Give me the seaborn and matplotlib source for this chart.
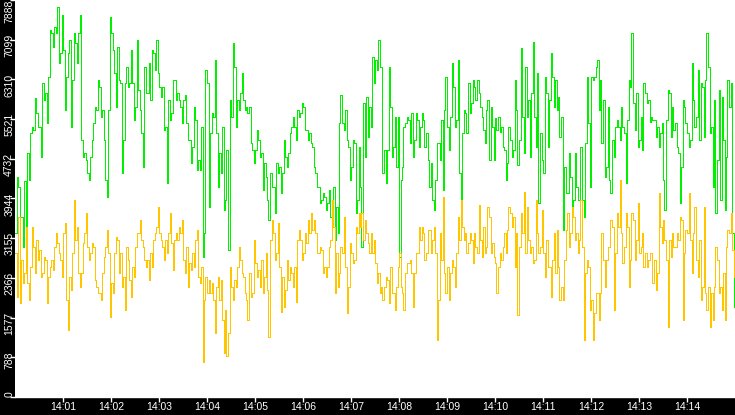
import pandas as pd
import numpy as np
import matplotlib
matplotlib.use('Agg')
import matplotlib.pyplot as plt
import matplotlib.dates as mdates
from matplotlib.transforms import ScaledTranslation
import seaborn as sns

# per 3.75 s slot a main level and the spike drawn inside the slot
green_main = [
    3254, 4181, 3585, 4300, 4843, 5240, 5306, 5637, 5373, 6233,
    6034, 6365, 7226, 7358, 7756, 6829, 6895, 6365, 7094, 6299,
    7027, 7226, 5108, 4843, 4446, 4777, 5439, 5704, 6167, 5704,
    4313, 5704, 7226, 6432, 6961, 6233, 5108, 6564, 6233, 6233,
    5770, 6101, 5240, 6564, 6034, 5902, 6829, 7094, 6167, 6167,
    5373, 5902, 5637, 6299, 6034, 5770, 5902, 5439, 5108, 4975,
    5505, 4711, 5373, 3254, 6233, 5240, 5571, 5240, 4843, 5373,
    3916, 2923, 5571, 6564, 5902, 6034, 5902, 5770, 5770, 4909,
    4909, 5108, 4843, 4644, 3916, 4446, 4181, 4644, 4578, 4446,
    4777, 4843, 5373, 5373, 5704, 5637, 5770, 5306, 5240, 4975,
    4446, 4181, 3916, 3982, 3850, 3585, 4181, 3784, 5439, 5439,
    5704, 4975, 4578, 5041, 3916, 4181, 5836, 5968, 5770, 6763,
    6696, 7100, 6564, 4909, 4909, 5770, 4975, 4578, 2791, 4578,
    5439, 5505, 5637, 5108, 5505, 5373, 5505, 5240, 4181, 3916,
    4313, 5041, 5505, 5704, 5373, 5571, 6167, 5505, 4446, 5240,
    5637, 6233, 5836, 6167, 6299, 5770, 5306, 5704, 4711, 5373,
    5538, 5571, 5373, 4909, 4644, 5108, 4909, 5704, 5108, 5571,
    6564, 5902, 6034, 5571, 6432, 5240, 4446, 6034, 5902, 6365,
    6299, 5968, 5571, 4578, 4048, 4380, 3916, 4181, 3916, 3916,
    5041, 5439, 6365, 6365, 6696, 6299, 5902, 4578, 4313, 5108,
    5373, 5373, 5770, 5240, 5505, 6167, 5836, 6034, 5108, 4909,
    6034, 5902, 5571, 5505, 5373, 5240, 4313, 5505, 6034, 5770,
    5439, 4843, 4578, 5770, 5240, 5108, 5902, 5571, 5108, 6167,
    6299, 6564, 5373, 5902, 4711, 3916, 5108, 4777, 5770, 3254,
]
green_spike = [
    4379, 3585, 2989, 2989, 4313, 5372, 5935, 5372, 4777, 5902,
    5439, 7292, 6961, 7226, 6630, 7590, 5703, 6829, 5372, 7226,
    6630, 7590, 4777, 4710, 4313, 5108, 5770, 6299, 5571, 5108,
    3982, 7557, 6895, 5770, 6299, 4446, 6233, 6167, 6895, 5505,
    7094, 5703, 4578, 6034, 6630, 6895, 6498, 6432, 5968, 5306,
    4247, 5505, 6299, 5902, 5902, 5439, 6001, 5108, 4644, 5770,
    4512, 4512, 2791, 6498, 3784, 5637, 6696, 4181, 4446, 3717,
    4909, 5902, 7027, 5372, 5703, 6432, 5703, 5637, 5041, 4644,
    5306, 4777, 4115, 4379, 3519, 4181, 3651, 4446, 4048, 5108,
    4578, 5240, 5571, 5108, 5571, 5836, 5306, 5108, 5041, 4578,
    4181, 3850, 4048, 3717, 4115, 3916, 3122, 3254, 6001, 5306,
    5108, 4313, 5108, 3651, 4975, 2989, 4777, 5174, 5372, 6233,
    6498, 6564, 4446, 4247, 6564, 4777, 5571, 5571, 4313, 5372,
    5571, 5041, 4777, 5637, 4975, 5637, 4975, 4710, 4644, 3717,
    5041, 4710, 4115, 6365, 4909, 6630, 5372, 6696, 3916, 5703,
    5240, 5637, 6299, 5902, 6034, 5571, 5041, 5902, 5770, 4710,
    5306, 5273, 4975, 4313, 5372, 4777, 6299, 4611, 6928, 4843,
    5571, 4777, 7060, 4975, 3850, 4710, 6365, 4975, 6829, 5770,
    5703, 5174, 3320, 4048, 4843, 3717, 4843, 3916, 4975, 3585,
    6365, 4181, 6299, 6564, 5703, 5041, 4379, 5770, 4048, 4777,
    5505, 5108, 5372, 4247, 6299, 7226, 5306, 4975, 5571, 6233,
    5836, 5472, 5505, 5174, 4975, 5439, 3717, 6101, 5174, 5306,
    4975, 3850, 5902, 5439, 4975, 6630, 5372, 6498, 6233, 5174,
    7226, 5240, 4181, 3651, 6101, 5968, 3717, 6299, 6233, 1798,
]
green_last = 1800

yellow_main = [
    2857, 3585, 2724, 2460, 2261, 2592, 2989, 3121, 2923, 2460,
    2724, 2393, 2724, 2989, 3055, 2724, 3254, 1930, 2393, 2857,
    3121, 2460, 2460, 3254, 2989, 2857, 2989, 2195, 2062, 2460,
    2989, 2857, 2261, 2857, 3121, 2857, 2393, 2989, 2327, 2592,
    2989, 3254, 3121, 2724, 2724, 2857, 3121, 3386, 3254, 2989,
    3121, 3254, 3055, 3121, 3121, 3254, 2724, 2989, 2658, 2857,
    3121, 2393, 2592, 1930, 2062, 2062, 1930, 2195, 1930, 1533,
    1732, 1268, 2195, 2327, 2592, 2724, 2393, 1930, 2460, 2062,
    2658, 2526, 2724, 2393, 2129, 3121, 3254, 2857, 2592, 2393,
    2129, 2327, 2460, 2592, 3121, 3121, 2857, 3055, 3254, 3320,
    3254, 2857, 2923, 2592, 2592, 3121, 3386, 2857, 2460, 2857,
    2592, 2195, 2857, 2724, 3254, 3386, 3121, 3254, 2857, 2857,
    2658, 2460, 2195, 2195, 2327, 2592, 2062, 2195, 2857, 2062,
    2460, 2658, 2460, 2460, 2857, 3121, 3254, 2857, 3320, 3121,
    2857, 1930, 2724, 2460, 2592, 2460, 2592, 2857, 3121, 3386,
    3254, 3055, 3121, 3254, 2857, 3121, 3386, 2989, 3585, 3055,
    2658, 2592, 2724, 3254, 3320, 3651, 3585, 3254, 2989, 3254,
    2857, 3121, 2989, 2724, 3254, 2989, 2857, 3121, 2592, 2724,
    2460, 2592, 2195, 2724, 3651, 3254, 3585, 3254, 3121, 2989,
    2460, 2592, 1930, 1665, 2062, 2062, 2724, 2724, 2989, 3386,
    2857, 3386, 3254, 2989, 3386, 2724, 3518, 3121, 2857, 3254,
    2857, 2724, 2857, 2724, 2460, 3386, 3518, 2724, 3121, 3254,
    2989, 3121, 3518, 2857, 3254, 3121, 3254, 2724, 3121, 2195,
    2062, 2195, 2062, 2195, 2724, 2195, 2460, 2989, 3254, 2923,
]
yellow_spike = [
    1996, 1864, 2261, 3386, 1930, 3386, 2460, 2724, 2393, 2791,
    1864, 2592, 2526, 3254, 2857, 2393, 3453, 1334, 2129, 3916,
    3386, 2195, 3055, 3651, 2724, 3055, 2327, 2062, 1930, 2791,
    3320, 1599, 2062, 3188, 2460, 2195, 1731, 2724, 1996, 2393,
    3254, 3519, 2989, 2592, 2327, 2592, 3254, 3784, 3122, 2724,
    2857, 3651, 2526, 3254, 3386, 3519, 2460, 2195, 2526, 2592,
    3320, 2261, 705, 2393, 2327, 2261, 1268, 2393, 2327, 871,
    805, 2592, 1930, 2195, 2989, 2460, 2062, 1533, 1996, 3122,
    2393, 2195, 2062, 2857, 1202, 3519, 2724, 3453, 1698, 1798,
    2724, 2592, 2195, 1897, 3320, 2724, 3254, 3519, 3651, 3519,
    2857, 2989, 2460, 2393, 2989, 3916, 2062, 2195, 2989, 3585,
    1665, 3055, 2658, 3386, 3651, 3651, 3519, 3055, 3254, 3122,
    2261, 2062, 1930, 2393, 1864, 2062, 1731, 2592, 2195, 1731,
    2658, 2724, 1798, 2857, 3386, 3386, 2724, 3320, 2857, 3386,
    1136, 3254, 3982, 2062, 1930, 2724, 2195, 3585, 3916, 3122,
    2857, 3254, 2658, 2989, 3817, 2791, 2857, 3784, 2857, 2791,
    2062, 2857, 2989, 2857, 3784, 3386, 2592, 1632, 3651, 4082,
    3784, 2857, 2658, 3916, 2857, 3717, 2393, 2592, 1996, 3254,
    3320, 1930, 1930, 3320, 2989, 3784, 3122, 2857, 3916, 1136,
    2724, 1731, 1136, 2062, 1533, 3254, 2195, 2989, 3519, 1731,
    3651, 4313, 2658, 3651, 2195, 3651, 2724, 3850, 2989, 2592,
    2592, 2857, 2261, 2129, 4048, 3055, 3122, 1400, 2791, 2989,
    3254, 3585, 1533, 3320, 4048, 2460, 3784, 2393, 1930, 3784,
    1731, 1400, 1533, 2989, 2062, 1731, 1533, 3320, 3651, 2393,
]
yellow_last = 50

ytick_labels = ['0', '788', '1577', '2366', '3155', '3944',
                '4732', '5521', '6310', '7099', '7888']
y_max = 7888


def interleave(main, spike, last):
    out = []
    for m, s in zip(main, spike):
        out += [m, s]
    return out + [last]


green_vals = interleave(green_main, green_spike, green_last)
yellow_vals = interleave(yellow_main, yellow_spike, yellow_last)

times = pd.date_range('2024-01-01 14:00:00', periods=len(green_vals), freq='1875ms')
df = pd.DataFrame({
    'time': list(times) * 2,
    'value': green_vals + yellow_vals,
    'series': ['green'] * len(green_vals) + ['yellow'] * len(yellow_vals),
})

plt.rcParams['font.family'] = ['Liberation Sans', 'DejaVu Sans']

fig = plt.figure(figsize=(7.35, 4.15), dpi=100, facecolor='black')
ax = fig.add_axes([15 / 735, 18 / 415, 720 / 735, 397 / 415])
ax.set_facecolor('white')

sns.lineplot(data=df, x='time', y='value', hue='series',
             palette={'green': '#00f000', 'yellow': '#ffc600'},
             estimator=None, legend=False, ax=ax,
             drawstyle='steps-post', linewidth=0.6, antialiased=False)

ax.set_xlim(pd.Timestamp('2024-01-01 14:00:00'), pd.Timestamp('2024-01-01 14:15:00'))
ax.set_ylim(0, y_max)
ax.set_xlabel('')
ax.set_ylabel('')

ax.xaxis.set_major_locator(mdates.MinuteLocator(byminute=range(1, 15)))
ax.xaxis.set_major_formatter(mdates.DateFormatter('%H:%M'))
ax.set_yticks(np.arange(len(ytick_labels)) * y_max / 10)
ax.set_yticklabels(ytick_labels)

for s in ['top', 'right', 'left']:
    ax.spines[s].set_visible(False)
ax.spines['bottom'].set_color('white')
ax.spines['bottom'].set_linewidth(1)

ax.tick_params(axis='x', colors='white', length=3.8, width=1, pad=0, labelsize=7.5)
ax.tick_params(axis='y', colors='white', length=3.6, width=1, pad=-3, labelsize=7.5)

for i, lab in enumerate(ax.get_yticklabels()):
    lab.set_rotation(90)
    lab.set_va('top')
    if i < len(ytick_labels) - 1:
        lab.set_transform(lab.get_transform() + ScaledTranslation(0, 6 / 100, fig.dpi_scale_trans))

fig.savefig('out.png', dpi=100, facecolor='black')
